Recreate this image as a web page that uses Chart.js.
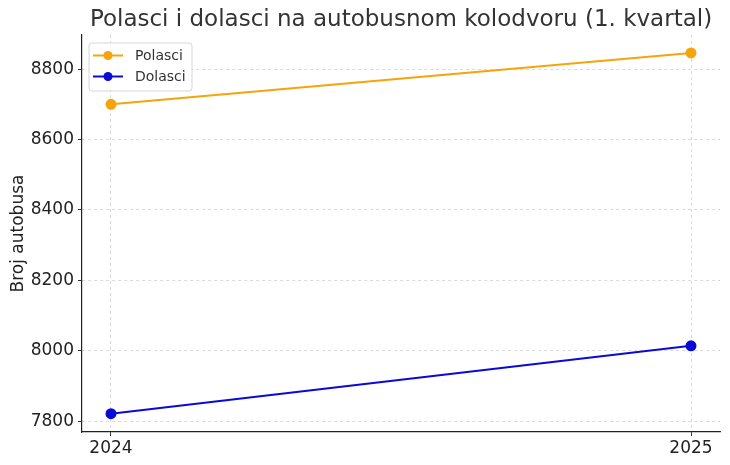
<!DOCTYPE html>
<html>
<head>
<meta charset="utf-8">
<script src="https://cdn.jsdelivr.net/npm/chart.js@4/dist/chart.umd.min.js"></script>
<style>
  html, body { margin: 0; padding: 0; background: #fff; }
  #wrap { width: 730px; height: 465px; }
</style>
</head>
<body>
<div id="wrap"><canvas id="chart"></canvas></div>
<script>
// data
const years = [2024, 2025];
const polasci = [8700, 8846];
const dolasci = [7821, 8014];
const yTicks = [7800, 8000, 8200, 8400, 8600, 8800];
const chartTitle = 'Polasci i dolasci na autobusnom kolodvoru (1. kvartal)';

const FONT = "'DejaVu Sans', sans-serif";

// title centred over the plot area (Chart.js centres on the canvas)
const plotTitle = {
  id: 'plotTitle',
  afterDraw(chart) {
    const ctx = chart.ctx;
    const a = chart.chartArea;
    ctx.save();
    ctx.font = '23px ' + FONT;
    ctx.fillStyle = '#333';
    ctx.textAlign = 'center';
    ctx.textBaseline = 'middle';
    ctx.fillText(chartTitle, (a.left + a.right) / 2, 20);
    ctx.restore();
  }
};

// legend drawn inside the plot area, like the original
const innerLegend = {
  id: 'innerLegend',
  afterDraw(chart) {
    const ctx = chart.ctx;
    const a = chart.chartArea;
    const x = a.left + 7, y = a.top + 8, w = 103, h = 48;
    ctx.save();
    ctx.beginPath();
    ctx.roundRect(x, y, w, h, 3);
    ctx.fillStyle = 'rgba(255,255,255,0.85)';
    ctx.fill();
    ctx.strokeStyle = '#d6d6d6';
    ctx.lineWidth = 1;
    ctx.stroke();
    ctx.font = '14px ' + FONT;
    ctx.textBaseline = 'middle';
    chart.data.datasets.forEach((ds, i) => {
      const cy = y + 12.5 + i * 21;
      ctx.strokeStyle = ds.borderColor;
      ctx.lineWidth = 2;
      ctx.beginPath();
      ctx.moveTo(x + 4, cy);
      ctx.lineTo(x + 34, cy);
      ctx.stroke();
      ctx.fillStyle = ds.borderColor;
      ctx.beginPath();
      ctx.arc(x + 19, cy, 4.5, 0, Math.PI * 2);
      ctx.fill();
      ctx.fillStyle = '#333';
      ctx.fillText(ds.label, x + 46, cy + 1);
    });
    ctx.restore();
  }
};

new Chart(document.getElementById('chart'), {
  type: 'line',
  data: {
    datasets: [
      {
        label: 'Polasci',
        data: years.map((yr, i) => ({ x: yr, y: polasci[i] })),
        borderColor: '#f5a40c',
        backgroundColor: '#f5a40c',
        borderWidth: 2,
        pointRadius: 4.5,
        pointHoverRadius: 4.5,
        tension: 0,
      },
      {
        label: 'Dolasci',
        data: years.map((yr, i) => ({ x: yr, y: dolasci[i] })),
        borderColor: '#0a0ad6',
        backgroundColor: '#0a0ad6',
        borderWidth: 2,
        pointRadius: 4.5,
        pointHoverRadius: 4.5,
        tension: 0,
      },
    ],
  },
  options: {
    responsive: true,
    maintainAspectRatio: false,
    animation: false,
    layout: { padding: { left: 8, right: 10, top: 35, bottom: 0 } },
    plugins: {
      legend: { display: false },
      tooltip: { enabled: false },
      title: { display: false },
    },
    scales: {
      x: {
        type: 'linear',
        min: 2023.95,
        max: 2025.05,
        afterBuildTicks: (axis) => { axis.ticks = years.map(v => ({ value: v })); },
        afterFit: (axis) => { axis.height = 33; },
        ticks: {
          color: '#222',
          font: { family: FONT, size: 17 },
          padding: 2,
          callback: (v) => String(v),
        },
        grid: {
          color: '#d0d0d0',
          lineWidth: 0.8,
          tickLength: 4,
          tickColor: '#333',
          tickWidth: 1,
        },
        border: { display: true, color: '#222', width: 1.2, dash: [3, 3] },
      },
      y: {
        min: 7769,
        max: 8897,
        afterBuildTicks: (axis) => { axis.ticks = yTicks.map(v => ({ value: v })); },
        afterFit: (axis) => { axis.width = 74; },
        ticks: {
          color: '#222',
          font: { family: FONT, size: 17 },
          padding: 4,
          callback: (v) => String(v),
        },
        title: {
          display: true,
          text: 'Broj autobusa',
          color: '#222',
          font: { family: FONT, size: 17 },
          padding: { top: 0, bottom: 0 },
        },
        grid: {
          color: '#d0d0d0',
          lineWidth: 0.8,
          tickLength: 4,
          tickColor: '#333',
          tickWidth: 1,
        },
        border: { display: true, color: '#222', width: 1.2, dash: [3, 3] },
      },
    },
  },
  plugins: [plotTitle, innerLegend],
});
</script>
</body>
</html>
